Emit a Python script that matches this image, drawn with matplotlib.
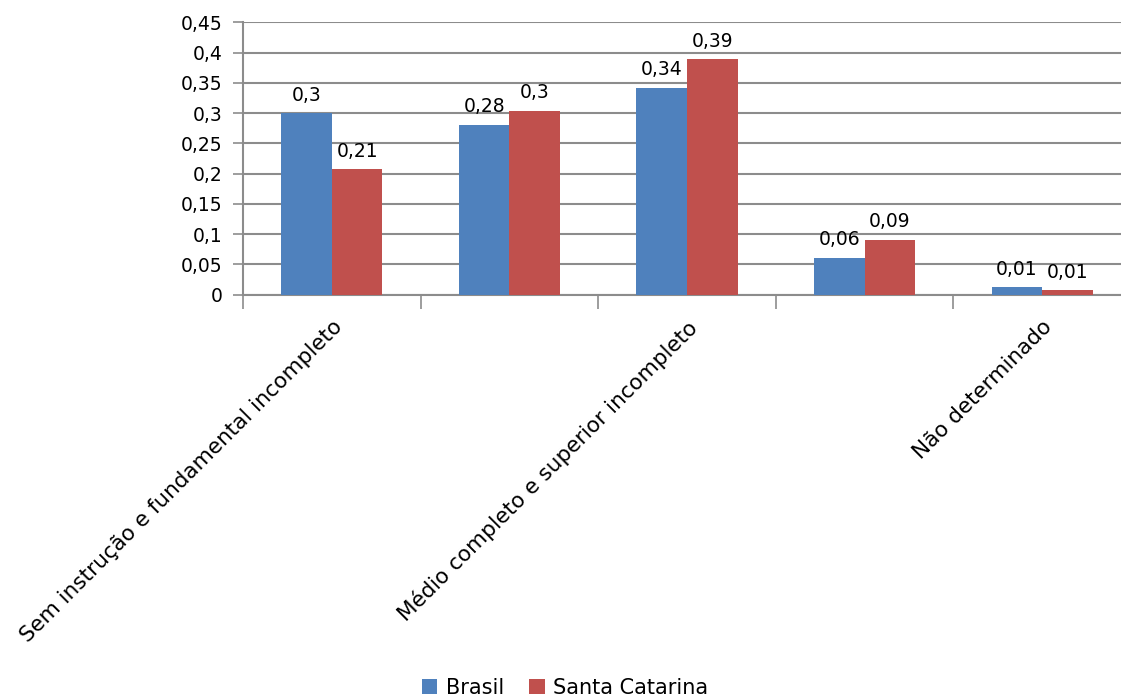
import matplotlib
matplotlib.use("Agg")
import matplotlib.pyplot as plt
import numpy as np

categories = ["Sem instrução e fundamental incompleto",
              "Fundamental completo e médio incompleto",
              "Médio completo e superior incompleto",
              "Superior completo",
              "Não determinado"]
series_names = ["Brasil", "Santa Catarina"]
brasil = [0.30, 0.281, 0.342, 0.061, 0.012]
santa_catarina = [0.207, 0.304, 0.389, 0.091, 0.008]
brasil_labels = ["0,3", "0,28", "0,34", "0,06", "0,01"]
sc_labels = ["0,21", "0,3", "0,39", "0,09", "0,01"]
y_ticks = [0, 0.05, 0.1, 0.15, 0.2, 0.25, 0.3, 0.35, 0.4, 0.45]
y_tick_labels = ["0", "0,05", "0,1", "0,15", "0,2", "0,25", "0,3", "0,35", "0,4", "0,45"]

plt.rcParams['font.family'] = ['DejaVu Sans']
blue = "#4F81BD"
red = "#C0504D"
grid_col = "#8C8C8C"
fs = 13.5

fig = plt.figure(figsize=(11.21, 6.99), dpi=100)
ax = fig.add_axes([243 / 1121, 1 - 294.7 / 699, 888 / 1121, 272.4 / 699])

x = np.arange(len(categories))
w = 0.285
b1 = ax.bar(x - w / 2, brasil, w, color=blue, zorder=3, label=series_names[0])
b2 = ax.bar(x + w / 2, santa_catarina, w, color=red, zorder=3, label=series_names[1])

for rect, lab in zip(b1, brasil_labels):
    ax.annotate(lab, (rect.get_x() + rect.get_width() / 2, rect.get_height()),
                xytext=(0, 6), textcoords="offset points", ha="center", va="bottom", fontsize=fs)
for rect, lab in zip(b2, sc_labels):
    ax.annotate(lab, (rect.get_x() + rect.get_width() / 2, rect.get_height()),
                xytext=(0, 6), textcoords="offset points", ha="center", va="bottom", fontsize=fs)

ax.set_xlim(-0.5, len(categories) - 0.5)
ax.set_ylim(0, 0.45)
ax.set_yticks(y_ticks)
ax.set_yticklabels(y_tick_labels, fontsize=fs)
ax.yaxis.grid(True, color=grid_col, linewidth=1.5, zorder=0)

# category boundary ticks, labels only every other category (as in the original)
ax.set_xticks(np.arange(len(categories) + 1) - 0.5)
ax.set_xticklabels([])
ax.set_xticks(x, minor=True)
ax.set_xticklabels([c if i % 2 == 0 else "" for i, c in enumerate(categories)],
                   minor=True, rotation=45, ha="right", va="top",
                   rotation_mode="anchor", fontsize=15.5)
ax.tick_params(axis="x", which="major", length=10, color=grid_col, width=1.2)
ax.tick_params(axis="x", which="minor", length=0, pad=16)
ax.tick_params(axis="y", length=7.5, color=grid_col, width=1.2, pad=7)

for s in ["top", "right"]:
    ax.spines[s].set_visible(False)
ax.spines["left"].set_color(grid_col)
ax.spines["left"].set_linewidth(1.5)
ax.spines["bottom"].set_color(grid_col)
ax.spines["bottom"].set_linewidth(1.5)

fig.legend(handles=[b1, b2], labels=series_names, loc="center", bbox_to_anchor=(565 / 1121, 1 - 688 / 699),
           ncol=2, frameon=False, fontsize=15, handlelength=0.75, handleheight=0.75,
           handletextpad=0.4, columnspacing=1.2)

fig.savefig("out.png", dpi=100)
